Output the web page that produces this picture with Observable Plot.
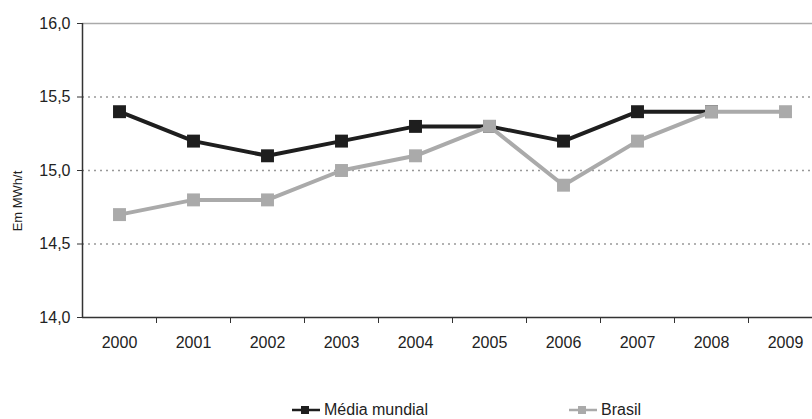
<!DOCTYPE html>
<html>
<head>
<meta charset="utf-8">
<script src="https://cdn.jsdelivr.net/npm/d3@7"></script>
<script src="https://cdn.jsdelivr.net/npm/@observablehq/plot@0.6"></script>
<style>
  body { margin: 0; background: #fff; font-family: "Liberation Sans", Arial, sans-serif; }
  #wrap { position: relative; width: 812px; height: 419px; overflow: hidden; }
  #chart { position: absolute; left: 0; top: 0; }
  .leg { position: absolute; top: 402px; font-size: 16px; line-height: 16px; color: #222; display: flex; align-items: center; }
  .leg svg { margin-right: 4px; }
  #ylab { position: absolute; left: 17px; top: 201px; transform: translate(-50%, -50%) rotate(-90deg); font-size: 13px; color: #222; white-space: nowrap; }
</style>
</head>
<body>
<div id="wrap">
  <div id="chart"></div>
  <div id="ylab"></div>
  <div class="leg" style="left:292px"><svg width="28" height="14"><line x1="0" y1="7" x2="28" y2="7" stroke="#1e1e1e" stroke-width="2.5"/><rect x="9" y="3" width="8" height="8" fill="#1e1e1e"/></svg><span id="leg0"></span></div>
  <div class="leg" style="left:569px"><svg width="28" height="14"><line x1="0" y1="7" x2="28" y2="7" stroke="#aaaaaa" stroke-width="2.5"/><rect x="9" y="3" width="8" height="8" fill="#aaaaaa"/></svg><span id="leg1"></span></div>
</div>
<script>
const years = [2000, 2001, 2002, 2003, 2004, 2005, 2006, 2007, 2008, 2009];
const mediaMundial = [15.4, 15.2, 15.1, 15.2, 15.3, 15.3, 15.2, 15.4, 15.4, null];
const brasil = [14.7, 14.8, 14.8, 15.0, 15.1, 15.3, 14.9, 15.2, 15.4, 15.4];
const yTicks = [14.0, 14.5, 15.0, 15.5, 16.0];
const yLabel = "Em MWh/t";
const seriesNames = ["Média mundial", "Brasil"];

document.getElementById("ylab").textContent = yLabel;
document.getElementById("leg0").textContent = seriesNames[0];
document.getElementById("leg1").textContent = seriesNames[1];

const world = years.map((y, i) => ({year: y, value: mediaMundial[i]})).filter(d => d.value != null);
const bra = years.map((y, i) => ({year: y, value: brasil[i]}));
const bounds = years.slice(0, -1).map(y => y + 0.5);

const dark = "#1e1e1e";
const gray = "#aaaaaa";

const chart = Plot.plot({
  width: 812,
  height: 362,
  marginLeft: 82,
  marginRight: 0,
  marginTop: 23,
  marginBottom: 45,
  style: {fontFamily: "Liberation Sans, Arial, sans-serif", fontSize: "16px", color: "#222", background: "#fff"},
  x: {domain: [1999.5, 1999.5 + 730 / 74]},
  y: {domain: [14, 16]},
  marks: [
    Plot.gridY([14.5, 15.0, 15.5], {stroke: "#999", strokeOpacity: 1, strokeDasharray: "2,4", strokeWidth: 1.5}),
    Plot.ruleY([16], {stroke: "#aaa", strokeWidth: 1.5}),
    Plot.axisY({ticks: yTicks, tickSize: 5, tickPadding: 7, tickFormat: d => d.toFixed(1).replace(".", ","), label: null, stroke: "#333"}),
    Plot.axisX({ticks: years, tickSize: 0, tickPadding: 19, tickFormat: d => String(d), label: null}),
    Plot.axisX({ticks: bounds, tickSize: 6, tickFormat: () => "", label: null, stroke: "#333"}),
    Plot.ruleX([1999.5], {stroke: "#333", strokeWidth: 1.5}),
    Plot.ruleY([14], {stroke: "#333", strokeWidth: 1.5}),
    Plot.line(world, {x: "year", y: "value", stroke: dark, strokeWidth: 4}),
    Plot.dot(world, {x: "year", y: "value", symbol: "square", r: 7.3, fill: dark, stroke: null}),
    Plot.line(bra, {x: "year", y: "value", stroke: gray, strokeWidth: 4}),
    Plot.dot(bra, {x: "year", y: "value", symbol: "square", r: 7.3, fill: gray, stroke: null})
  ]
});
document.getElementById("chart").appendChild(chart);
</script>
</body>
</html>
